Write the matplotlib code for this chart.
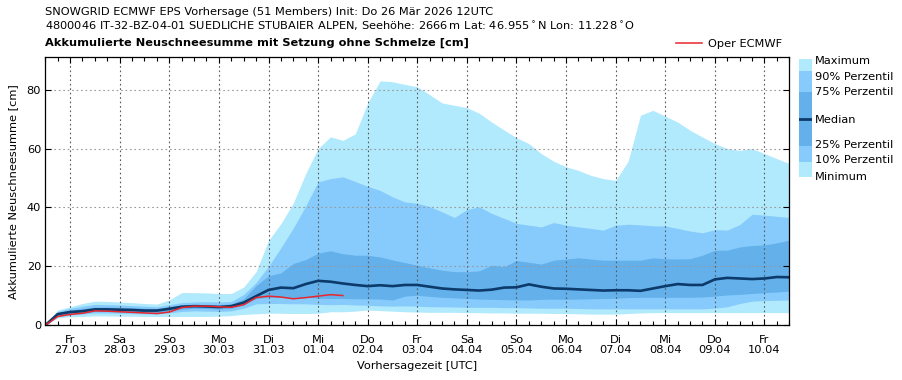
import numpy as np
import pandas as pd
import matplotlib
matplotlib.use("Agg")
import matplotlib.pyplot as plt
from matplotlib.ticker import MultipleLocator

# %% Data (6-hourly, from init 26.03.2026 12 UTC)
p_min = [0, 2.5, 2.9, 3.0, 3.2, 3.2, 3.1, 3.1, 3.0, 3.0, 3.0, 3.0, 3.0, 3.0, 3.1, 3.3, 3.7, 3.9, 4.1, 4.1,
         4.0, 4.0, 4.1, 4.6, 4.6, 4.8, 5.2, 5.0, 4.8, 4.6, 4.5, 4.4, 4.4, 4.4, 4.3, 4.3, 4.2, 4.2, 4.1, 4.1,
         4.1, 4.0, 4.0, 3.9, 3.8, 3.8, 3.8, 4.0, 4.2, 4.3, 4.3, 4.3, 4.3, 4.3, 4.3, 4.3, 4.3, 4.3, 4.3, 4.3, 4.3]
p10 = [0, 2.9, 3.5, 3.8, 4.2, 4.2, 4.1, 4.0, 3.9, 3.8, 4.2, 4.7, 4.9, 4.8, 4.7, 4.9, 5.8, 7.3, 7.4, 7.4,
       7.3, 7.3, 7.1, 7.0, 7.1, 6.9, 6.8, 6.6, 6.5, 6.6, 6.5, 6.3, 6.3, 6.2, 6.1, 6.1, 6.1, 6.0, 6.0, 5.9,
       5.8, 5.8, 5.8, 5.7, 5.6, 5.6, 5.6, 5.6, 5.6, 5.6, 5.6, 5.6, 5.6, 5.6, 5.8, 6.3, 7.4, 8.2, 8.4, 8.5, 8.6]
p25 = [0, 3.2, 3.9, 4.2, 4.7, 4.7, 4.6, 4.5, 4.3, 4.3, 4.9, 5.5, 5.8, 5.7, 5.5, 5.8, 6.9, 9.1, 9.5, 9.5,
       9.2, 9.5, 9.2, 9.1, 9.1, 9.0, 9.0, 8.9, 8.6, 9.9, 10.2, 9.8, 9.5, 9.3, 9.1, 8.9, 8.8, 8.7, 8.6, 8.6,
       8.8, 8.9, 8.8, 8.9, 9.0, 9.1, 9.2, 9.4, 9.5, 9.5, 9.5, 9.5, 9.5, 9.6, 9.9, 10.3, 10.5, 10.8, 11.1, 11.3, 11.6]
median = [0, 3.8, 4.5, 4.8, 5.4, 5.4, 5.3, 5.2, 5.0, 5.0, 5.6, 6.3, 6.5, 6.4, 6.2, 6.5, 7.7, 9.9, 12.0, 12.8,
          12.6, 14.0, 15.1, 14.8, 14.2, 13.7, 13.3, 13.6, 13.3, 13.7, 13.7, 13.1, 12.5, 12.2, 12.0, 11.8, 12.1, 12.8, 12.9, 13.9,
          13.1, 12.5, 12.4, 12.2, 12.0, 11.8, 11.9, 11.9, 11.7, 12.5, 13.3, 14.0, 13.7, 13.7, 15.6, 16.1, 15.9, 15.7, 15.9, 16.4, 16.3]
p75 = [0, 4.2, 5.2, 5.7, 6.2, 6.2, 6.1, 6.0, 5.8, 5.7, 6.3, 6.9, 7.1, 7.1, 7.0, 7.3, 9.0, 13.5, 16.8, 17.8,
       21.0, 22.3, 24.5, 25.3, 24.3, 23.8, 23.8, 23.2, 22.2, 21.3, 20.4, 19.5, 18.7, 18.2, 18.2, 18.5, 20.4, 19.9, 22.0, 21.4,
       20.8, 22.1, 22.5, 22.9, 22.5, 22.1, 22.1, 22.1, 22.1, 22.9, 22.6, 22.5, 22.6, 23.8, 25.5, 25.5, 26.6, 27.1, 27.3, 28.0, 28.9]
p90 = [0, 4.7, 5.8, 6.5, 7.1, 7.0, 6.9, 6.7, 6.5, 6.3, 7.0, 7.7, 7.9, 8.0, 7.9, 8.1, 10.5, 14.5, 20.0, 26.3,
       33.0, 40.5, 48.7, 49.8, 50.4, 48.8, 47.2, 45.8, 43.6, 41.9, 41.4, 40.3, 38.5, 36.6, 39.3, 40.2, 38.0, 36.3, 34.6, 34.0,
       33.4, 34.9, 34.0, 33.4, 32.9, 32.3, 34.0, 34.3, 34.1, 33.8, 33.7, 32.9, 32.0, 31.4, 32.5, 32.3, 34.2, 37.7, 37.4, 37.0, 36.6]
p_max = [0, 5.2, 6.3, 7.4, 8.2, 8.1, 7.9, 7.7, 7.4, 7.2, 8.6, 11.1, 11.1, 11.0, 10.8, 10.8, 13.0, 18.2, 28.8, 34.5,
         41.5, 51.5, 60.0, 64.0, 62.8, 65.0, 75.5, 83.0, 82.7, 81.8, 81.0, 78.3, 75.5, 74.7, 73.9, 72.0, 69.0, 66.3, 63.7, 61.7,
         58.3, 55.7, 53.8, 52.6, 50.9, 49.8, 49.2, 55.7, 71.3, 73.0, 71.0, 69.0, 66.2, 63.9, 61.7, 60.0, 59.4, 60.0, 58.3, 56.6, 54.9]
oper = [0, 3.0, 3.7, 4.1, 4.9, 4.8, 4.6, 4.4, 4.2, 4.0, 4.5, 6.0, 6.5, 6.5, 6.3, 6.1, 7.0, 9.4, 9.9, 9.6,
        9.0, 9.4, 9.9, 10.4, 10.1]

day_names = ["Fr", "Sa", "So", "Mo", "Di", "Mi", "Do", "Fr", "Sa", "So", "Mo", "Di", "Mi", "Do", "Fr"]
day_dates = ["27.03", "28.03", "29.03", "30.03", "31.03", "01.04", "02.04", "03.04",
             "04.04", "05.04", "06.04", "07.04", "08.04", "09.04", "10.04"]

hours = np.arange(len(median)) * 6
c_light = "#b1e9fd"
c_mid = "#86cbfc"
c_dark = "#63b0eb"
c_med = "#0b3a6b"
c_oper = "#e8262b"

# %% Plot
fig = plt.figure(figsize=(9.03, 3.8), dpi=100)
ax = fig.add_axes([45.3 / 903, 1 - 325.3 / 380, 744 / 903, 268 / 380])

ax.fill_between(hours, p_min, p_max, color=c_light, lw=0)
ax.fill_between(hours, p10, p90, color=c_mid, lw=0)
ax.fill_between(hours, p25, p75, color=c_dark, lw=0)
ax.plot(hours, median, color=c_med, lw=1.9)
ax.plot(hours[:len(oper)], oper, color=c_oper, lw=1.1, label="Oper ECMWF")

ax.set_xlim(0, 360)
ax.set_ylim(0, 91)
ax.set_xticks(np.arange(12, 360, 24))
ax.set_xticklabels([f"{d}\n{t}" for d, t in zip(day_names, day_dates)], fontsize=8.2, linespacing=1.0)
ax.xaxis.set_minor_locator(MultipleLocator(6))
ax.set_yticks([0, 20, 40, 60, 80])
ax.tick_params(axis="y", labelsize=8.2)
ax.tick_params(which="both", direction="in", top=True, right=True, width=0.8)
ax.tick_params(which="major", length=4, pad=3)
ax.tick_params(axis="x", which="major", pad=7)
ax.tick_params(which="minor", length=3)
ax.xaxis.grid(True, which="major", linestyle=(0, (1.5, 2.5)), color="0.35", lw=0.8)
ax.yaxis.grid(True, which="major", linestyle=(0, (1.5, 2.5)), color="0.6", lw=0.8)
for s in ax.spines.values():
    s.set_linewidth(0.9)

ax.set_xlabel("Vorhersagezeit [UTC]", fontsize=8.2, labelpad=4)
ax.set_ylabel("Akkumulierte Neuschneesumme [cm]", fontsize=8.2, labelpad=6)

ax.legend(loc="lower right", bbox_to_anchor=(1.0, 1.005), frameon=False, fontsize=8.2,
          handlelength=2.2, handletextpad=0.6, borderaxespad=0.2)

fig.text(45 / 903, 1 - 12 / 380, "SNOWGRID ECMWF EPS Vorhersage (51 Members) Init: Do 26 Mär 2026 12UTC",
         fontsize=8.2, va="center")
fig.text(45 / 903, 1 - 26 / 380,
         "4800046 IT-32-BZ-04-01 SUEDLICHE STUBAIER ALPEN, Seehöhe: 2666$\\,$m Lat: 46.955$^\\circ$N Lon: 11.228$^\\circ$O",
         fontsize=8.2, va="center")
fig.text(45 / 903, 1 - 43 / 380, "Akkumulierte Neuschneesumme mit Setzung ohne Schmelze [cm]",
         fontsize=8.2, fontweight="bold", va="center")

# right-hand colour key
lax = fig.add_axes([799 / 903, 1 - 177.3 / 380, 13 / 903, 118 / 380])
lax.set_xlim(0, 1)
lax.set_ylim(0, 1)
lax.axis("off")
lax.axhspan(0.903, 1.0, color=c_light, lw=0)
lax.axhspan(0.725, 0.903, color=c_mid, lw=0)
lax.axhspan(0.265, 0.725, color=c_dark, lw=0)
lax.axhspan(0.132, 0.265, color=c_mid, lw=0)
lax.axhspan(0.0, 0.132, color=c_light, lw=0)
lax.axhline(0.497, color=c_med, lw=2.0)

key_labels = ["Maximum", "90% Perzentil", "75% Perzentil", "Median", "25% Perzentil", "10% Perzentil", "Minimum"]
key_y = [60.7, 76.7, 92.3, 120, 145.5, 160.5, 177]
for lab, y in zip(key_labels, key_y):
    fig.text(815 / 903, 1 - y / 380, lab, fontsize=8.2, va="center")

fig.savefig("out.png", dpi=100)
